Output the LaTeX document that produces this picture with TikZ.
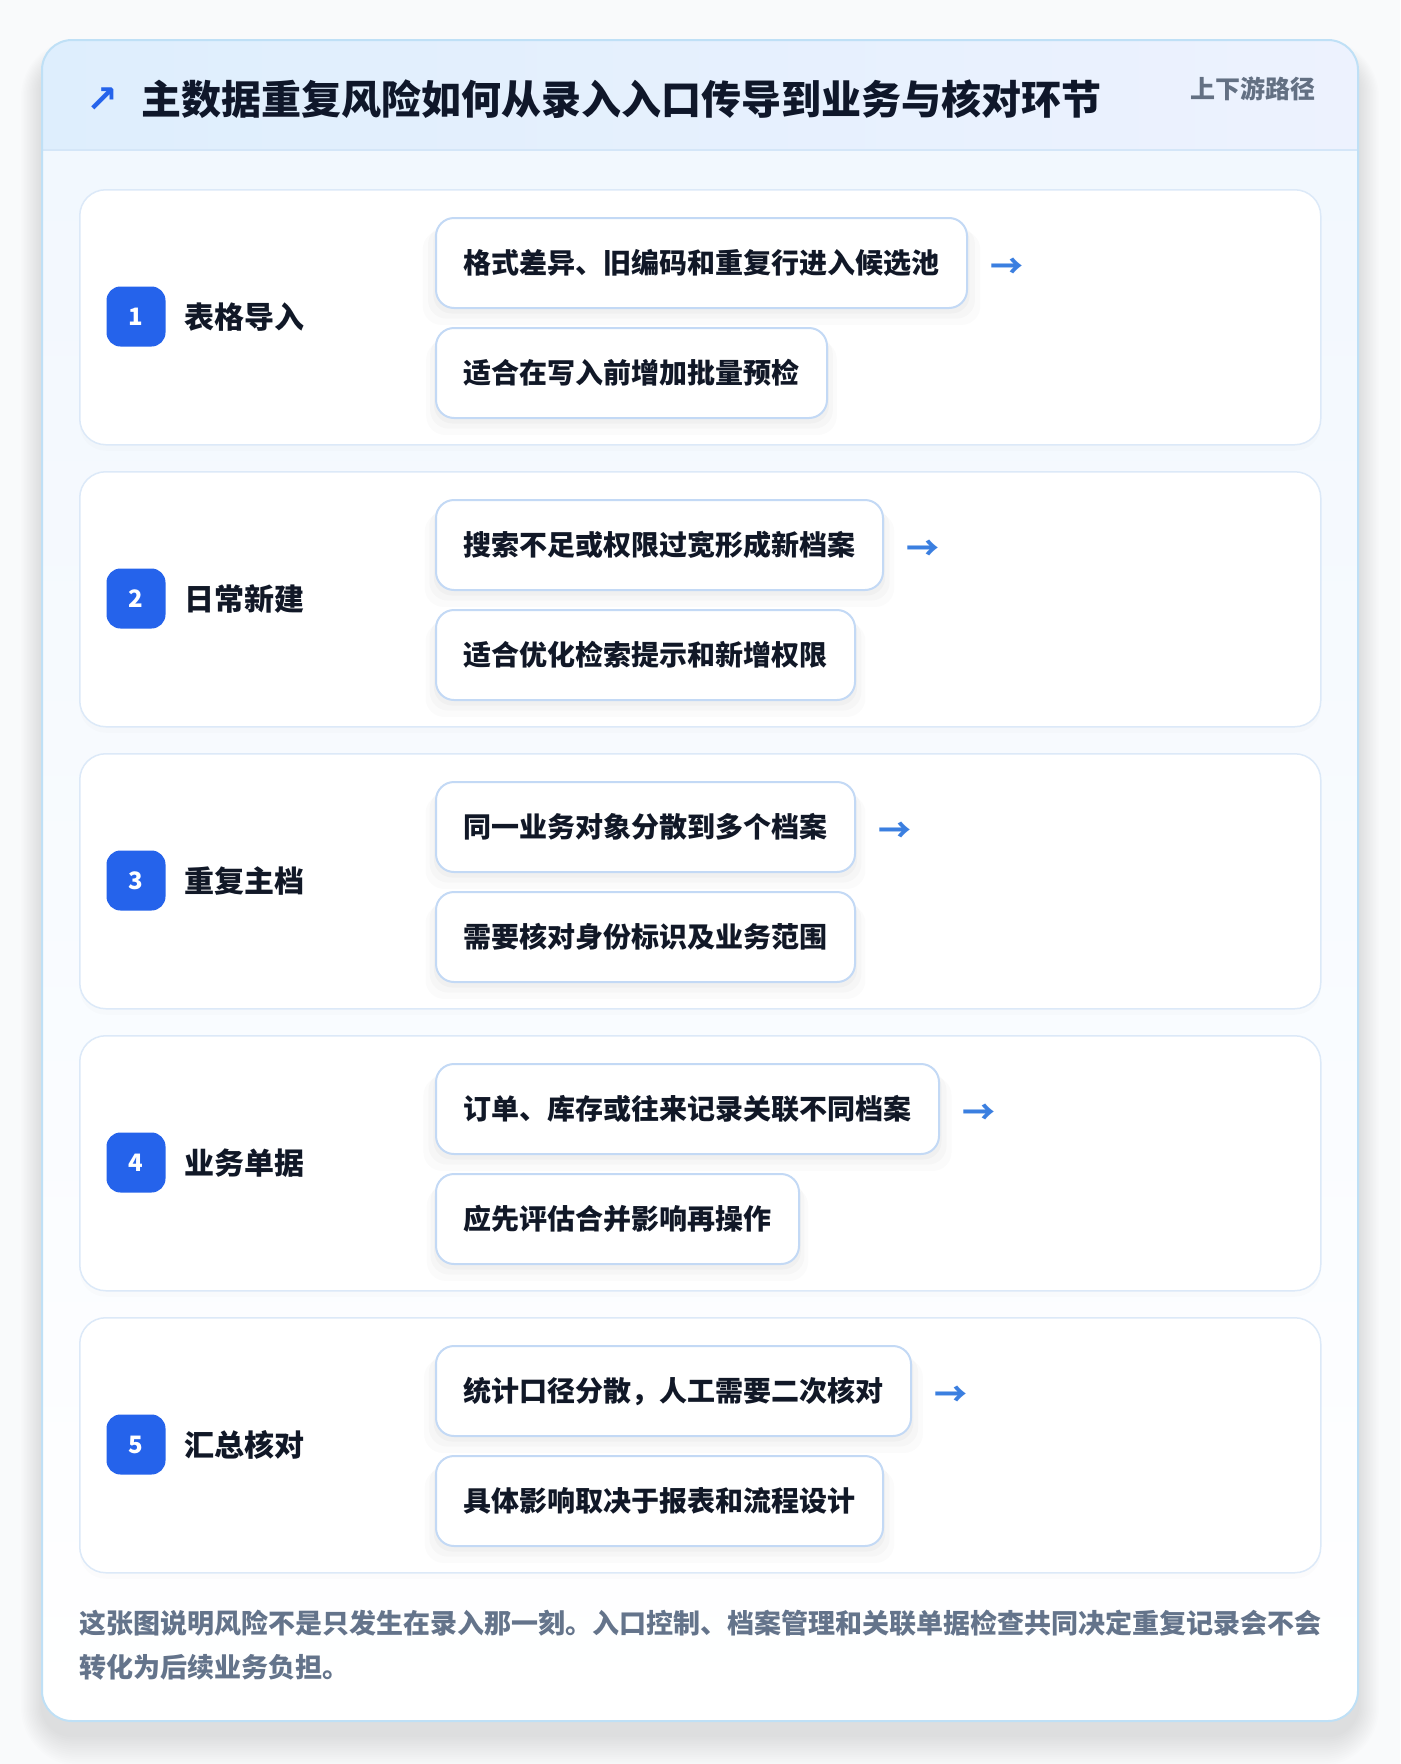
\documentclass[tikz,border=0pt]{standalone}
\usepackage{fontspec}
\setmainfont{Noto Sans CJK SC}
\newfontfamily\symfont{DejaVu Sans}
\usetikzlibrary{shadows,calc}
\definecolor{pagebg}{HTML}{F9FAFB}
\definecolor{cardborder}{HTML}{BFE0F6}
\definecolor{cardtop}{HTML}{F1F7FE}
\definecolor{hdrl}{HTML}{DEEEFD}
\definecolor{hdrr}{HTML}{EDF2FE}
\definecolor{hdrline}{HTML}{D4E6F8}
\definecolor{rowborder}{HTML}{DCE9F8}
\definecolor{itemborder}{HTML}{C3D9F5}
\definecolor{badgeblue}{HTML}{2563EB}
\definecolor{titlecol}{HTML}{0F172A}
\definecolor{textcol}{HTML}{111827}
\definecolor{arrowcol}{HTML}{3B7FE0}
\definecolor{subcol}{HTML}{637083}
\definecolor{footcol}{HTML}{64748B}
\begin{document}
\begin{tikzpicture}[x=1pt,y=-1pt,
  titletext/.style={inner sep=0pt, text height=30.4pt, text depth=0pt, font=\fontsize{40}{48}\selectfont\bfseries, text=titlecol},
  subtext/.style={inner sep=0pt, text height=19pt, text depth=0pt, font=\fontsize{25}{30}\selectfont\bfseries, text=subcol},
  rowcard/.style={draw=rowborder, line width=1.5pt, fill=white, rounded corners=26pt,
    inner sep=0pt, minimum width=1241pt, minimum height=255pt,
    general shadow={fill=black, opacity=0.012, shadow yshift=-6pt}},
  badge/.style={fill=badgeblue, rounded corners=14pt, minimum width=59pt, minimum height=60pt,
    inner sep=0pt, text=white, font=\fontsize{24}{28}\selectfont\bfseries},
  labtext/.style={inner sep=0pt, text height=22.8pt, text depth=0pt, font=\fontsize{30}{36}\selectfont\bfseries, text=textcol},
  itembox/.style={draw=itemborder, line width=2pt, fill=white, rounded corners=18pt,
    inner xsep=27.5pt, inner ysep=0pt, minimum height=90pt, text height=21.3pt, text depth=0pt,
    font=\fontsize{28}{34}\selectfont\bfseries, text=textcol,
    general shadow={fill=black, opacity=0.015, shadow yshift=-14pt, shadow scale=1.05},
    general shadow={fill=black, opacity=0.02, shadow yshift=-9pt, shadow scale=1.03},
    general shadow={fill=black, opacity=0.025, shadow yshift=-5pt, shadow scale=1.01}},
  arrowtext/.style={inner sep=0pt, font=\fontsize{33}{36}\selectfont\bfseries, text=arrowcol},
  foottext/.style={inner sep=0pt, text height=20.5pt, text depth=0pt, font=\fontsize{27}{34}\selectfont\bfseries, text=footcol}
]
\useasboundingbox (0,0) rectangle (1400,1764);
\fill[pagebg] (0,0) rectangle (1400,1764);
% soft shadow of main card
\foreach \k in {1,...,14}{
  \fill[black, opacity=0.006, rounded corners={30pt+2*\k pt}]
    ({42-1.5*\k},{60-1.5*\k}) rectangle ({1358+1.5*\k},{1735+2.2*\k});
}
% main card
\path[rounded corners=30pt, top color=cardtop, bottom color=white]
  (42,40) rectangle (1358,1721);
\begin{scope}
  \clip[rounded corners=30pt] (42,40) rectangle (1358,1721);
  \fill[left color=hdrl, right color=hdrr] (42,40) rectangle (1358,150);
  \draw[hdrline, line width=1.5pt] (42,150) -- (1358,150);
\end{scope}
\draw[cardborder, line width=2pt, rounded corners=30pt] (42,40) rectangle (1358,1721);

% header texts
\node[inner sep=0pt, text=badgeblue, font=\symfont\fontsize{38}{40}\selectfont\bfseries] (icon) at (102,100) {↗};
\node[titletext, anchor=west] (title) at (141,99) {主数据重复风险如何从录入入口传导到业务与核对环节};
\node[subtext, anchor=east] (sub) at (1316,89) {上下游路径};

% rows
\foreach \i/\lab/\ta/\tb in {
  1/表格导入/格式差异、旧编码和重复行进入候选池/适合在写入前增加批量预检,
  2/日常新建/搜索不足或权限过宽形成新档案/适合优化检索提示和新增权限,
  3/重复主档/同一业务对象分散到多个档案/需要核对身份标识及业务范围,
  4/业务单据/订单、库存或往来记录关联不同档案/应先评估合并影响再操作,
  5/汇总核对/统计口径分散，人工需要二次核对/具体影响取决于报表和流程设计}{
  \pgfmathsetmacro{\top}{189+282*(\i-1)}
  \node[rowcard, anchor=north west] (row\i) at (79,\top) {};
  \node[badge] (badge\i) at (136,\top+127.5) {\i};
  \node[labtext, anchor=west] (lab\i) at (184,\top+128) {\lab};
  \node[itembox, anchor=north west] (ita\i) at (435,\top+28) {\ta};
  \node[itembox, anchor=north west] (itb\i) at (435,\top+138) {\tb};
  \node[arrowtext, anchor=west] (arr\i) at ($(ita\i.east)+(22,5)$) {→};
}

% footer
\node[foottext, anchor=west] (foot1) at (79,1623) {这张图说明风险不是只发生在录入那一刻。入口控制、档案管理和关联单据检查共同决定重复记录会不会};
\node[foottext, anchor=west] (foot2) at (79,1667) {转化为后续业务负担。};
\end{tikzpicture}
\end{document}
